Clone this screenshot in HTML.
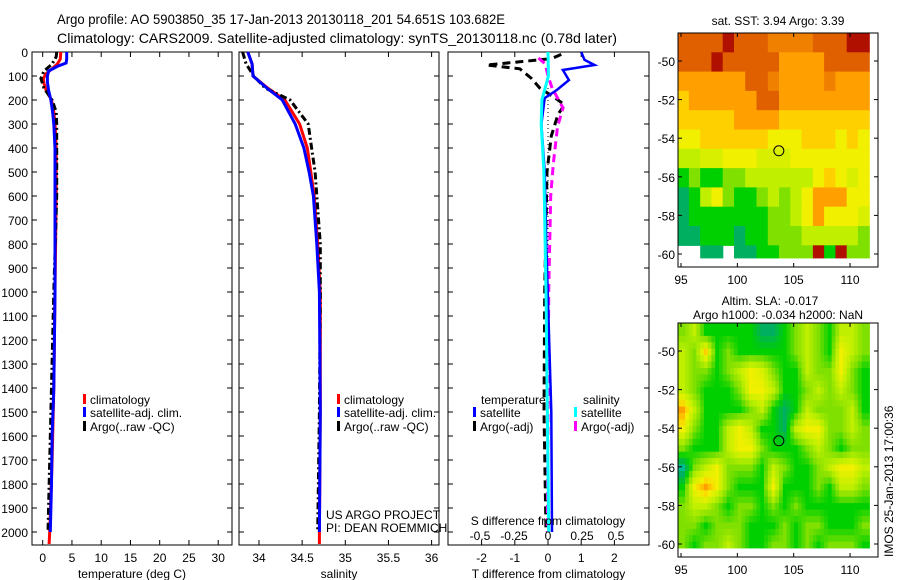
<!DOCTYPE html>
<html><head><meta charset="utf-8"><style>
html,body{margin:0;padding:0;background:#fff;width:900px;height:580px;overflow:hidden}
svg{display:block;font-family:"Liberation Sans",sans-serif}
</style></head><body>
<svg id="s" width="900" height="580" viewBox="0 0 900 580" xmlns="http://www.w3.org/2000/svg"></svg>
<script>
// ---- profile data ----
const tDepth   = [0,30,50,70,90,110,130,160,200,250,300,400,600,1000,1400,1700,2000,2050];
const tClim    = [3.1,3.0,2.5,1.6,0.6,0.1,0.2,0.6,1.5,1.9,2.1,2.3,2.3,2.1,1.9,1.6,1.2,1.1];
const tSatDepth= [0,30,46,60,79,100,125,160,200,250,300,400,1000,1400,1600,1800,2000];
const tSat     = [4.1,4.1,4.0,2.5,1.0,0.8,0.8,1.0,1.4,1.7,1.9,2.1,2.1,1.9,1.6,1.5,1.3];
const tArgoDepth=[0,20,50,80,110,150,200,250,300,600,1000,1500,2000];
const tArgo    = [2.4,2.3,1.6,0.2,-0.3,0.2,1.6,2.3,2.4,2.4,1.9,1.4,0.9];
const sDepth   = [0,50,100,150,200,300,400,500,600,800,1000,1500,2000,2050];
const sSat     = [33.87,33.92,33.93,34.09,34.27,34.42,34.52,34.58,34.63,34.67,34.70,34.71,34.70];
const sClim    = [33.87,33.92,33.93,34.10,34.30,34.47,34.56,34.60,34.64,34.68,34.71,34.71,34.70,34.70];
const sArgo    = [33.81,33.85,33.94,34.07,34.36,34.57,34.61,34.65,34.67,34.71,34.71,34.70,34.68];
const dTSatDepth=[0,33,54,75,117,158,192,300,500,800,1500,2000];
const dTSat    = [1.0,1.1,1.4,0.45,0.63,0.27,-0.1,-0.2,-0.1,-0.05,0.1,0.12];
const dSSatDepth=[0,100,200,300,500,1000,2000];
const dSSat    = [0,0.003,-0.045,-0.05,-0.03,-0.015,0.005];
const dTArgoDepth=[10,28,54,70,110,150,190,220,260,350,500,1000,1500,2000];
const dTArgo   = [0.4,0.1,-1.85,-0.85,-0.5,-0.25,0.2,0.5,0.3,0.1,-0.03,-0.1,-0.12,-0.06];
const dSArgoDepth=[25,50,100,150,233,312,462,600,1000,2000];
const dSArgo   = [-0.07,-0.02,0,0.03,0.11,0.07,0.04,0.02,0.005,-0.005];
const depthTicks=[0,100,200,300,400,500,600,700,800,900,1000,1100,1200,1300,1400,1500,1600,1700,1800,1900,2000];
const tTicks=[0,5,10,15,20,25,30];
const sTicks=[34,34.5,35,35.5,36];
const dTTicks=[-2,-1,0,1,2];
const dSTicks=[-0.5,-0.25,0,0.25,0.5];
const dSTickLabels=["-0.5","-0.25","0","0.25","0.5"];
const lonTicks=[95,100,105,110];
const latTicks=[-50,-52,-54,-56,-58,-60];
const sstGrid=[
[9,9,9,9,10,9,9,9,8.5,8.5,8.5,8.5,9,9,9,10,10],
[9,9,9,10,9,9,9,9,9,8,8,8,8,9,9,9,9],
[8,8,8,8,8,8,9,9,8.5,8,8,8,8,8.5,8,8,8],
[7.5,8,8,8,8,8,8,9,9,8,8,8,8,8,8,8,8],
[7.5,7.5,7.5,7.5,7.5,8,8,8,8,7.5,7.5,7.5,7.5,7.5,7.5,7.5,7.5],
[7,7,7.5,7.5,7.5,7.5,7.5,7.5,7,7,7,7.5,7.5,7.5,7,7.5,7],
[6,6,6.5,6.5,7,7,7,6.5,6.5,6.5,7,7,7,7,7,7,7],
[4,5,4,4,5,5,6,6,6,6,6,6,7,7.5,7,6.5,7],
[3,4,6,7,5,4,4,5,6,5,6,7,8,8,8,7,7],
[3,4,4,4,4,4,4,4,5,5,6,7,8,7,7,7,6.5],
[3,3,4,4,4,3,4,4,5,5,5,6,6,6,6,6,5],
[-1,-1,3,3,-1,3,3,4,4,5,5,5,10,4,10,5,5]];
const slaGrid=[
[5,6,4,4,4,4,4,3,3,4,5,6,5,4,6,6,5],
[6,5,7.5,4,5,4,4,4,4,4,5,6,5,4,7,6,5],
[6,5,5,4,5,6,7,6.5,5,4,4,6,5,5,7,5,4],
[6,5,4,4,4,5,7,7,6,4,4,5,6,5,6,5,4],
[8,6,4,4,4,4,5,6,4,3,4,6,5,5,5,6,4],
[7,5,4,4,6,7,6,4,4,3,6,7,7,5,5,6,5],
[5,4,4,4,6,7,7,5,4,4,4,5,6,5,4,5,5],
[2.5,5,6,7,5,5,5,4,6,5,4,4,5,6,7,7,6],
[4,7,8,7,5,4,4,4,7,4,4,4,5,4,6,6,5],
[5,6,6,5,4,5,5,4,5,4,5,4,4,4,4,4,4],
[5,5,4,5,5,5,4,4,4,5,4,5,5,4,4,4,5],
[5,4,5,5,6,5,4,4,5,5,4,5,4,5,5,5,4]];
const argoLon=103.682, argoLat=-54.651;

const NS="http://www.w3.org/2000/svg";
const svg=document.getElementById('s');
function mk(tag,attrs,parent){const e=document.createElementNS(NS,tag);for(const k in attrs)e.setAttribute(k,attrs[k]);(parent||svg).appendChild(e);return e;}
function txt(x,y,s,size,anchor,parent){const t=mk('text',{x:x,y:y,'font-size':size,'text-anchor':anchor||'start',fill:'#000'},parent);t.textContent=s;return t;}

const top0=52, bot=545;
const yD=d=>top0+d*0.24;
const xT=v=>42.7+v*5.85;
const xS=v=>259+(v-34)*86.3;
const xDT=v=>548+v*33.2;
const xDS=v=>548+v*136;

let t1=txt(57,24,"Argo profile: AO 5903850_35 17-Jan-2013 20130118_201 54.651S 103.682E",14);
t1.setAttribute('textLength',448);t1.setAttribute('lengthAdjust','spacingAndGlyphs');


let t2=txt(57,43,"Climatology: CARS2009. Satellite-adjusted climatology: synTS_20130118.nc (0.78d later)",14);
t2.setAttribute('textLength',560);t2.setAttribute('lengthAdjust','spacingAndGlyphs');



function panel(name,x0,x1,xs,ticks,labels,xlabel,depthLabels){
  const g=mk('g',{});
  
  
  mk('rect',{x:x0,y:top0,width:x1-x0,height:bot-top0,fill:'none',stroke:'#000','stroke-width':1},g);
  depthTicks.forEach(d=>{
    const y=yD(d);
    mk('line',{x1:x0,x2:x0+5,y1:y,y2:y,stroke:'#000'},g);
    mk('line',{x1:x1-5,x2:x1,y1:y,y2:y,stroke:'#000'},g);
    if(depthLabels){const l=txt(x0-4,y+5,String(d),12,'end',g);
      
      }
  });
  ticks.forEach((v,i)=>{
    const x=xs(v);
    mk('line',{x1:x,x2:x,y1:top0,y2:top0+5,stroke:'#000'},g);
    mk('line',{x1:x,x2:x,y1:bot-5,y2:bot,stroke:'#000'},g);
    if(labels){const l=txt(x,bot+17,labels[i],12,'middle',g);
      
      }
  });
  const xl=txt((x0+x1)/2,bot+33,xlabel,12,'middle',g);
  
  
  return g;
}
panel('temperature-panel',32,232,xT,tTicks,tTicks.map(String),'temperature (deg C)',true);
panel('salinity-panel',239,439,xS,sTicks,sTicks.map(String),'salinity',false);
panel('difference-panel',448,649,xDT,dTTicks,dTTicks.map(String),'T difference from climatology',false);

function line(depths,vals,xs,color,w,dash,name){
  const pts=vals.map((v,i)=>xs(v).toFixed(1)+','+yD(depths[i]).toFixed(1)).join(' ');
  const p=mk('polyline',{points:pts,fill:'none',stroke:color,'stroke-width':w});
  if(dash)p.setAttribute('stroke-dasharray',dash);
  
  
}
line(tDepth,tClim,xT,'#ff0000',3,null,'temp-climatology-line');
line(tArgoDepth,tArgo,xT,'#000',3,'7,3,2,3','temp-argo-line');
line(tSatDepth,tSat,xT,'#0000ff',3,null,'temp-satellite-line');
line(sDepth,sClim,xS,'#ff0000',3,null,'sal-climatology-line');
line(sDepth.slice(0,sArgo.length),sArgo,xS,'#000',3,'7,3,2,3','sal-argo-line');
line(sDepth.slice(0,sSat.length),sSat,xS,'#0000ff',3,null,'sal-satellite-line');
const zl=mk('line',{x1:xDT(0),x2:xDT(0),y1:yD(150),y2:yD(2000),stroke:'#000','stroke-dasharray':'1,3'});


line(dTArgoDepth,dTArgo,xDT,'#000',3,'8,5','tdiff-argo-line');
line(dSArgoDepth,dSArgo,xDS,'#ff00ff',3,'8,5','sdiff-argo-line');
line(dTSatDepth,dTSat,xDT,'#0000ff',2.5,null,'tdiff-satellite-line');
line(dSSatDepth,dSSat,xDS,'#00ffff',3,null,'sdiff-satellite-line');
dSTicks.forEach((v,i)=>{const l=txt(xDS(v),540,dSTickLabels[i],12,'middle');
  
  });
const sdl=txt(548,525,'S difference from climatology',12,'middle');



function legendItem(x,y,color,label,name){
  const g=mk('g',{});
  
  
  mk('rect',{x:x,y:y-10,width:3,height:10,fill:color},g);
  txt(x+7,y,label,12,'start',g);
}
[[83,'temperature'],[337,'salinity']].forEach(([x,n])=>{
  legendItem(x,404,'#ff0000','climatology',n+'-legend-climatology');
  legendItem(x,417,'#0000ff','satellite-adj. clim.',n+'-legend-satellite');
  legendItem(x,431,'#000','Argo(..raw -QC)',n+'-legend-argo');
});
const lt=txt(481,404,'temperature',12);  
const ls=txt(583,404,'salinity',12);  
legendItem(473,417,'#0000ff','satellite','legend-tdiff-satellite');
legendItem(473,431,'#000','Argo(-adj)','legend-tdiff-argo');
legendItem(574,417,'#00ffff','satellite','legend-sdiff-satellite');
legendItem(574,431,'#ff00ff','Argo(-adj)','legend-sdiff-argo');
const cr=txt(326,519,'US ARGO PROJECT',12);  
const pi=txt(326,532,'PI: DEAN ROEMMICH',12);  

const stops=[[0,[0,128,255]],[2,[0,200,200]],[3,[0,176,96]],[4,[0,208,0]],[5,[128,224,0]],[6,[192,240,0]],[7,[240,240,0]],[7.5,[255,208,0]],[8,[255,160,0]],[9,[224,96,0]],[10,[176,16,0]]];
function cmap(v){for(let i=1;i<stops.length;i++){if(v<=stops[i][0]){const a=stops[i-1],b=stops[i],f=(v-a[0])/(b[0]-a[0]);return 'rgb('+a[1].map((c,k)=>Math.round(c+(b[1][k]-c)*f)).join(',')+')';}}return 'rgb(176,16,0)';}
function sample(grid,r,c){
  const R=grid.length,C=grid[0].length;
  r=Math.max(0,Math.min(R-1,r));c=Math.max(0,Math.min(C-1,c));
  const r0=Math.floor(r),c0=Math.floor(c),r1=Math.min(R-1,r0+1),c1=Math.min(C-1,c0+1),fr=r-r0,fc=c-c0;
  const a=grid[r0][c0],b=grid[r0][c1],d=grid[r1][c0],e=grid[r1][c1];
  if(a<0||b<0||d<0||e<0)return grid[Math.round(r)][Math.round(c)];
  return a*(1-fr)*(1-fc)+b*(1-fr)*fc+d*fr*(1-fc)+e*fr*fc;
}
function map(name,y0,y1,lat50y,grid,sub){
  const x0=678,x1=878;
  const xL=l=>681+(l-95)*11.27;
  const yL=l=>lat50y+(-50-l)*19.3;
  const g=mk('g',{});
  
  
  const R=grid.length,C=grid[0].length;
  for(let i=0;i<R*sub;i++)for(let j=0;j<C*sub;j++){
    const r=(i+0.5)/sub-0.5, c=(j+0.5)/sub-0.5;
    const v=sub>1?sample(grid,r,c):grid[i][j];
    if(v<0)continue;
    const la=-48.55-i/sub, lo=94.7+j/sub;
    const xa=Math.max(x0,xL(lo)), xb=Math.min(x1,xL(lo+1/sub));
    const ya=Math.max(y0,yL(la)), yb=Math.min(y1,yL(Math.max(-60.2,la-1/sub)));
    if(xb<=xa||yb<=ya)continue;
    const cell=mk('rect',{x:xa.toFixed(1),y:ya.toFixed(1),width:(xb-xa+0.6).toFixed(1),height:(yb-ya+0.6).toFixed(1),fill:cmap(v)},g);
    
    
  }
  mk('rect',{x:x0,y:y0,width:x1-x0,height:y1-y0,fill:'none',stroke:'#000'},g);
  lonTicks.forEach(l=>{const x=xL(l);
    mk('line',{x1:x,x2:x,y1:y0,y2:y0+4,stroke:'#000'},g);
    mk('line',{x1:x,x2:x,y1:y1-4,y2:y1,stroke:'#000'},g);
    const tl=txt(x,y1+17,String(l),12,'middle',g);
    
    });
  latTicks.forEach(l=>{const y=yL(l);
    mk('line',{x1:x0,x2:x0+4,y1:y,y2:y,stroke:'#000'},g);
    mk('line',{x1:x1-4,x2:x1,y1:y,y2:y,stroke:'#000'},g);
    const tl=txt(x0-3,y+5,String(l),12,'end',g);
    
    });
  const m=mk('circle',{cx:xL(argoLon),cy:yL(argoLat),r:5,fill:'none',stroke:'#000','stroke-width':1},g);
  
  
}
map('sst-map',33,267,61,sstGrid,1);
map('sla-map',323,557,351,slaGrid,3);
const mt=txt(778,25,'sat. SST: 3.94 Argo: 3.39',12,'middle');  
const m2=txt(770,305,'Altim. SLA: -0.017',12,'middle');  
const m3=txt(778,319,'Argo h1000: -0.034 h2000: NaN',12,'middle');  
const im=txt(0,0,'IMOS 25-Jan-2013 17:00:36',12,'start'); im.setAttribute('transform','translate(893,557) rotate(-90)');


</script>
</body></html>
